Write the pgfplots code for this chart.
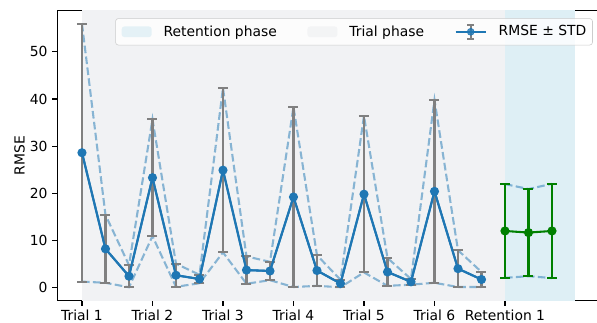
\documentclass[border=0pt]{standalone}
\usepackage{fontspec}
\setmainfont{DejaVu Sans}
\usepackage{pgfplots}
\pgfplotsset{compat=1.18}
\usepackage{pgfplotstable}
\usetikzlibrary{calc}

\definecolor{c1}{HTML}{1F77B4}
\definecolor{errgray}{HTML}{808080}
\definecolor{mplgreen}{HTML}{008000}
\definecolor{retshade}{HTML}{DEEFF5}
\definecolor{trialshade}{HTML}{F1F2F4}

% trial phase: mean RMSE, std, lower and upper band (mean -/+ std)
\pgfplotstableread{
x  m     s      lo     hi
0  28.6  27.35  1.25   55.95
1  8.2   7.2    1.0    15.4
2  2.4   2.35   0.05   4.75
3  23.3  12.4   10.9   35.7
4  2.6   2.45   0.15   5.05
5  1.8   0.9    0.9    2.7
6  24.9  17.45  7.45   42.35
7  3.7   2.9    0.8    6.6
8  3.5   1.95   1.55   5.45
9  19.2  19.1   0.1    38.3
10 3.6   3.25   0.35   6.85
11 0.85  0.8    0.05   1.65
12 19.8  16.6   3.2    36.4
13 3.3   2.95   0.35   6.25
14 1.2   0.6    0.6    1.8
15 20.4  19.4   1.0    39.8
16 4.0   3.9    0.1    7.9
17 1.7   1.6    0.1    3.3
}\trial

% retention phase
\pgfplotstableread{
x  m     s      lo     hi
18 12.0  9.95   2.05   21.95
19 11.65 9.25   2.4    20.9
20 12.0  10.0   2.0    22.0
}\retention

\begin{document}
\begin{tikzpicture}
\begin{axis}[
  name=ax,
  scale only axis,
  width=392.2pt, height=209.0pt,
  xmin=-1.05, xmax=22.13,
  ymin=-2.8, ymax=58.8,
  axis line style={line width=0.8pt},
  xtick={0,3,6,9,12,15,18},
  xticklabels={Trial 1,Trial 2,Trial 3,Trial 4,Trial 5,Trial 6,Retention 1},
  ytick={0,10,20,30,40,50},
  tick align=outside,
  xtick pos=bottom, ytick pos=left,
  major tick length=3.5pt,
  tick style={line width=0.8pt, black},
  /pgf/number format/assume math mode=true,
  ticklabel style={font=\fontsize{10}{12}\selectfont},
  xticklabel style={inner sep=0pt, anchor=north},
  xticklabel shift=3.0pt,
  ylabel={RMSE},
  ylabel style={font=\fontsize{10}{12}\selectfont, at={(axis description cs:-0.0593,0.5)}, anchor=south, inner sep=0pt},
  legend columns=3,
  legend cell align=left,
  legend style={at={(0.983,0.973)}, anchor=north east,
    draw=black!20, rounded corners=2pt, fill=white, fill opacity=0.8, text opacity=1,
    font=\fontsize{10}{12}\selectfont,
    nodes={inner xsep=0pt},
    inner xsep=4.4pt, inner ysep=3pt,
    /tikz/every odd column/.append style={column sep=8.6pt},
    /tikz/every even column/.append style={column sep=22pt}},
]
% shaded phases
\addplot[fill=retshade, draw=none, area legend,
  legend image code/.code={\fill[retshade] (0pt,-3.85pt) rectangle (21.6pt,3.85pt);}]
  coordinates {(18,-2.8) (21,-2.8) (21,58.8) (18,58.8)} -- cycle;
\addlegendentry{Retention phase}
\addplot[fill=trialshade, draw=none, area legend,
  legend image code/.code={\fill[trialshade] (0pt,-3.85pt) rectangle (21.6pt,3.85pt);}]
  coordinates {(0,-2.8) (18,-2.8) (18,58.8) (0,58.8)} -- cycle;
\addlegendentry{Trial phase}
\addlegendimage{legend image code/.code={
  \draw[errgray, line width=1.5pt] (10.8pt,-5pt) -- (10.8pt,5pt);
  \draw[errgray, line width=1.5pt] (8.2pt,5pt) -- (13.4pt,5pt) (8.2pt,-5pt) -- (13.4pt,-5pt);
  \draw[c1, line width=1.5pt] (0pt,0pt) -- (21.6pt,0pt);
  \fill[c1] (10.8pt,0pt) circle (2.5pt);}}
\addlegendentry{RMSE ± STD}

% mean +/- std bands
\addplot[forget plot, c1, opacity=0.5, line width=1.5pt, dash pattern=on 5.5pt off 2.4pt]
  table[x=x, y=hi] {\trial};
\addplot[forget plot, c1, opacity=0.5, line width=1.5pt, dash pattern=on 5.5pt off 2.4pt]
  table[x=x, y=lo] {\trial};
\addplot[forget plot, c1, opacity=0.5, line width=1.5pt, dash pattern=on 5.5pt off 2.4pt]
  table[x=x, y=hi] {\retention};
\addplot[forget plot, c1, opacity=0.5, line width=1.5pt, dash pattern=on 5.5pt off 2.4pt]
  table[x=x, y=lo] {\retention};

% trial phase: error bars, then line and markers on top
\addplot[forget plot, c1, line width=1.5pt, mark=none,
  error bars/.cd, y dir=both, y explicit,
  error bar style={errgray, line width=1.5pt, solid},
  error mark options={errgray, line width=1.5pt, mark size=3.6pt, rotate=90}]
  table[x=x, y=m, y error=s] {\trial};
\addplot[forget plot, c1, line width=1.5pt, mark=*, mark size=2.5pt, mark options={solid, fill=c1, draw=c1}]
  table[x=x, y=m] {\trial};

% retention phase
\addplot[forget plot, mplgreen, line width=1.5pt, mark=*, mark size=2.5pt,
  mark options={solid, fill=mplgreen, draw=mplgreen},
  error bars/.cd, y dir=both, y explicit,
  error bar style={mplgreen, line width=1.5pt, solid},
  error mark options={mplgreen, line width=1.5pt, mark size=3.6pt, rotate=90}]
  table[x=x, y=m, y error=s] {\retention};
\end{axis}
\pgfresetboundingbox
\path[use as bounding box] ($(ax.south west)+(-41.26pt,-15.5pt)$) rectangle ($(ax.north west)+(388.58pt,7.5pt)$);
\end{tikzpicture}
\end{document}
